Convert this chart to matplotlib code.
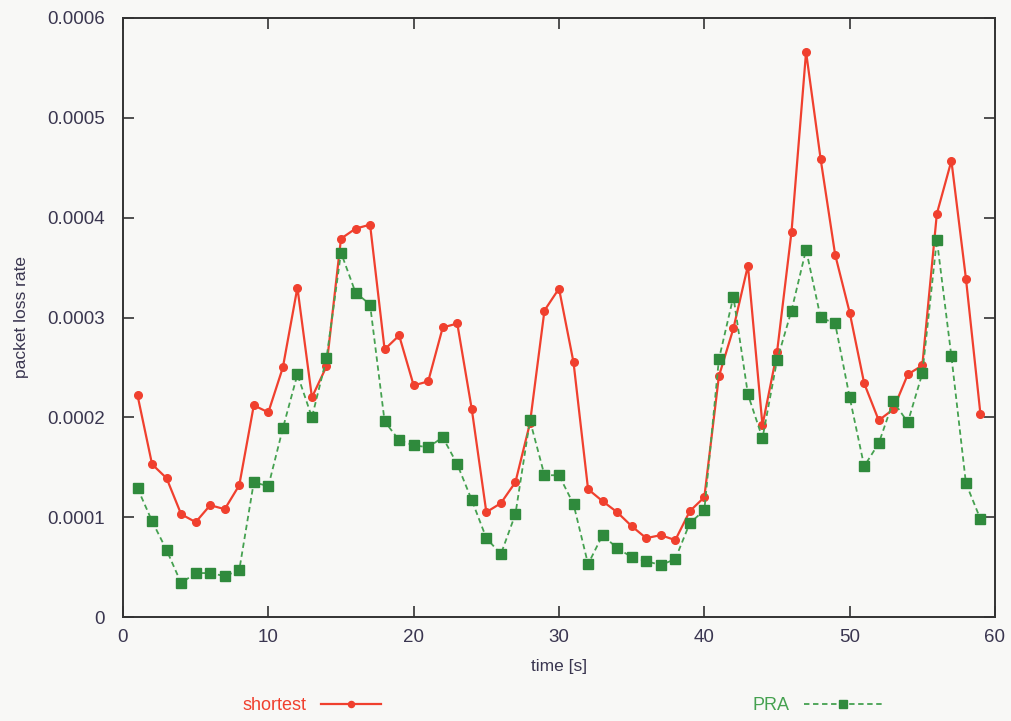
import matplotlib.pyplot as plt

# Packet loss rate per second for the two routing schemes.
times = list(range(1, 60))
shortest = [2.22, 1.53, 1.39, 1.03, 0.95, 1.12, 1.08, 1.32, 2.12, 2.05,
            2.50, 3.30, 2.20, 2.51, 3.79, 3.89, 3.93, 2.68, 2.82, 2.32,
            2.36, 2.90, 2.94, 2.08, 1.05, 1.14, 1.35, 1.94, 3.07, 3.29,
            2.55, 1.28, 1.16, 1.05, 0.91, 0.79, 0.82, 0.77, 1.06, 1.20,
            2.41, 2.89, 3.52, 1.92, 2.65, 3.86, 5.66, 4.59, 3.63, 3.05,
            2.34, 1.97, 2.08, 2.43, 2.52, 4.04, 4.57, 3.39, 2.03]
pra = [1.29, 0.96, 0.67, 0.34, 0.44, 0.44, 0.41, 0.47, 1.35, 1.31,
       1.89, 2.43, 2.00, 2.59, 3.65, 3.25, 3.13, 1.96, 1.77, 1.72,
       1.70, 1.80, 1.53, 1.17, 0.79, 0.63, 1.03, 1.97, 1.42, 1.42,
       1.13, 0.53, 0.82, 0.69, 0.60, 0.56, 0.52, 0.58, 0.94, 1.07,
       2.58, 3.21, 2.23, 1.79, 2.57, 3.07, 3.68, 3.00, 2.94, 2.20,
       1.51, 1.74, 2.16, 1.95, 2.44, 3.78, 2.61, 1.34, 0.98]
shortest = [v * 1e-4 for v in shortest]
pra = [v * 1e-4 for v in pra]

plt.rcParams['font.family'] = ['Liberation Sans', 'DejaVu Sans']

fig = plt.figure(figsize=(10.12, 7.21), dpi=100, facecolor='#f8f8f6')
ax = fig.add_axes([123 / 1012, 1 - 617 / 721, 872 / 1012, 599 / 721])
ax.set_facecolor('#f8f8f6')

red = '#f0402e'
green = '#2f8a3c'
l1, = ax.plot(times, shortest, color=red, lw=1.6, marker='o', ms=5.5,
              label='shortest')
l2, = ax.plot(times, pra, color='#45a150', lw=1.3, ls=(0, (3, 2)), marker='s',
              ms=7, mfc=green, mec=green, label='PRA')

ax.set_xlim(0, 60)
ax.set_ylim(0, 0.0006)
ax.set_xticks(range(0, 61, 10))
ax.set_yticks([0, 0.0001, 0.0002, 0.0003, 0.0004, 0.0005, 0.0006])
ax.set_yticklabels(['0', '0.0001', '0.0002', '0.0003', '0.0004', '0.0005', '0.0006'])
ax.tick_params(axis='both', direction='in', length=8, width=1.2, top=True,
               right=True, labelsize=13.5, colors='#333333',
               labelcolor='#3a3650')
ax.tick_params(axis='y', pad=13)
ax.tick_params(axis='x', pad=9)
for s in ax.spines.values():
    s.set_linewidth(1.4)
    s.set_color('#333333')

ax.set_xlabel('time [s]', fontsize=12.5, color='#3a3650', labelpad=9)
ax.set_ylabel('packet loss rate', fontsize=12.5, color='#3a3650', labelpad=13)

# Key below the plot, label before the sample.
fig.legend(handles=[l1], markerfirst=False, frameon=False, loc='center',
           bbox_to_anchor=(312 / 1012, 1 - 706 / 721), fontsize=13,
           labelcolor='linecolor', handlelength=3.3, handletextpad=0.8,
           markerscale=0.8)
fig.legend(handles=[l2], markerfirst=False, frameon=False, loc='center',
           bbox_to_anchor=(817 / 1012, 1 - 706 / 721), fontsize=13,
           labelcolor='linecolor', handlelength=4.3, handletextpad=0.8,
           markerscale=0.8)

fig.savefig('out.png', dpi=100, facecolor=fig.get_facecolor())
